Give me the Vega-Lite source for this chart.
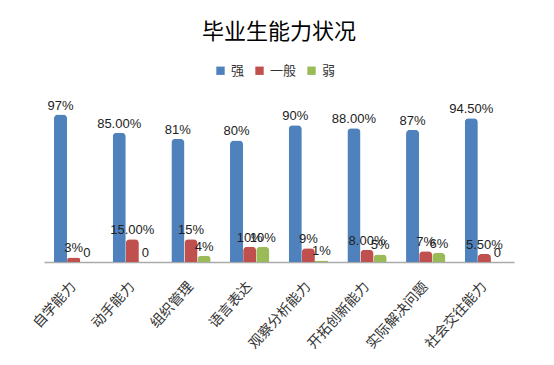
{
  "$schema": "https://vega.github.io/schema/vega-lite/v6.json",
  "autosize": {"type": "none"},
  "width": 470,
  "height": 152,
  "padding": {"left": 44, "top": 110, "right": 40, "bottom": 103},
  "background": "white",
  "config": {"view": {"stroke": null}},
  "title": {"text": "毕业生能力状况", "font": "Noto Sans CJK SC", "fontSize": 22, "fontWeight": "normal", "color": "#000000", "anchor": "middle", "offset": 20},
  "data": {"values": [
    {"category": "自学能力", "series": "强", "value": 97, "label": "97%"},
    {"category": "自学能力", "series": "一般", "value": 3, "label": "3%"},
    {"category": "自学能力", "series": "弱", "value": 0, "label": "0"},
    {"category": "动手能力", "series": "强", "value": 85, "label": "85.00%"},
    {"category": "动手能力", "series": "一般", "value": 15, "label": "15.00%"},
    {"category": "动手能力", "series": "弱", "value": 0, "label": "0"},
    {"category": "组织管理", "series": "强", "value": 81, "label": "81%"},
    {"category": "组织管理", "series": "一般", "value": 15, "label": "15%"},
    {"category": "组织管理", "series": "弱", "value": 4, "label": "4%"},
    {"category": "语言表达", "series": "强", "value": 80, "label": "80%"},
    {"category": "语言表达", "series": "一般", "value": 10, "label": "10%"},
    {"category": "语言表达", "series": "弱", "value": 10, "label": "10%"},
    {"category": "观察分析能力", "series": "强", "value": 90, "label": "90%"},
    {"category": "观察分析能力", "series": "一般", "value": 9, "label": "9%"},
    {"category": "观察分析能力", "series": "弱", "value": 1, "label": "1%"},
    {"category": "开拓创新能力", "series": "强", "value": 88, "label": "88.00%"},
    {"category": "开拓创新能力", "series": "一般", "value": 8, "label": "8.00%"},
    {"category": "开拓创新能力", "series": "弱", "value": 5, "label": "5%"},
    {"category": "实际解决问题", "series": "强", "value": 87, "label": "87%"},
    {"category": "实际解决问题", "series": "一般", "value": 7, "label": "7%"},
    {"category": "实际解决问题", "series": "弱", "value": 6, "label": "6%"},
    {"category": "社会交往能力", "series": "强", "value": 94.5, "label": "94.50%"},
    {"category": "社会交往能力", "series": "一般", "value": 5.5, "label": "5.50%"},
    {"category": "社会交往能力", "series": "弱", "value": 0, "label": "0"}
  ]},
  "encoding": {
    "x": {"field": "category", "type": "nominal", "sort": null,
      "scale": {"paddingInner": 0.33, "paddingOuter": 0.17},
      "axis": {"title": null, "labelAngle": -48, "labelFont": "Noto Sans CJK SC", "labelFontSize": 14, "labelColor": "#333333", "ticks": false, "domainColor": "#aaaaaa", "domainWidth": 1.5, "labelPadding": 22}},
    "xOffset": {"field": "series", "type": "nominal", "sort": ["强", "一般", "弱"]},
    "y": {"field": "value", "type": "quantitative", "scale": {"domain": [0, 100]}, "axis": null}
  },
  "layer": [
    {"mark": {"type": "bar", "cornerRadiusTopLeft": 4, "cornerRadiusTopRight": 4},
     "encoding": {
       "color": {"field": "series", "type": "nominal", "sort": ["强", "一般", "弱"],
         "scale": {"domain": ["强", "一般", "弱"], "range": ["#4F81BD", "#C0504D", "#9BBB59"]},
         "legend": {"title": null, "orient": "none", "legendX": 170, "legendY": -46, "direction": "horizontal", "symbolType": "square", "symbolSize": 70, "labelFont": "Noto Sans CJK SC", "labelFontSize": 13, "labelColor": "#333333", "columnPadding": 8, "symbolStrokeWidth": 0}
       }}},
    {"mark": {"type": "text", "dy": -9, "font": "Liberation Sans", "fontSize": 13, "color": "#222222"},
     "encoding": {"text": {"field": "label"}}}
  ]
}
